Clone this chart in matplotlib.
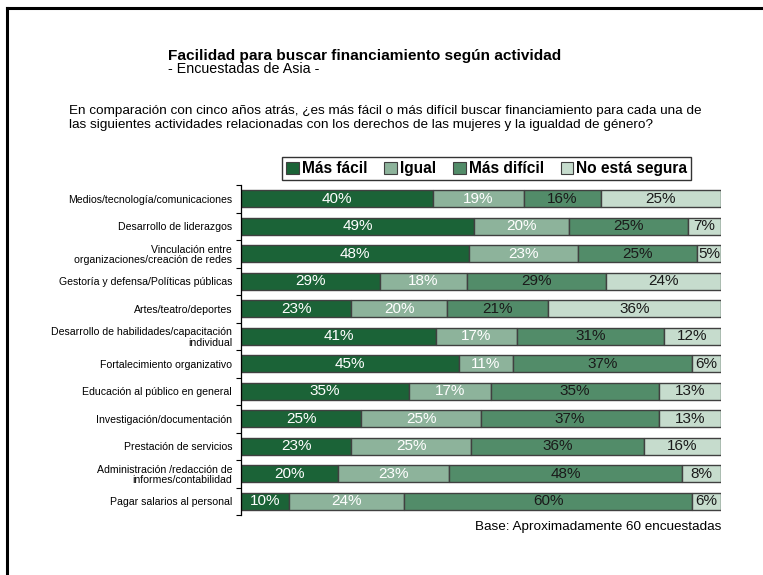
import numpy as np
import matplotlib
matplotlib.use("Agg")
import matplotlib.pyplot as plt
from matplotlib.lines import Line2D
from matplotlib.patches import Patch

plt.rcParams['font.family'] = ['Liberation Sans', 'DejaVu Sans']

# datos
actividades = ["Medios/tecnología/comunicaciones",
               "Desarrollo de liderazgos",
               "Vinculación entre\norganizaciones/creación de redes",
               "Gestoría y defensa/Políticas públicas",
               "Artes/teatro/deportes",
               "Desarrollo de habilidades/capacitación\nindividual",
               "Fortalecimiento organizativo",
               "Educación al público en general",
               "Investigación/documentación",
               "Prestación de servicios",
               "Administración /redacción de\ninformes/contabilidad",
               "Pagar salarios al personal"]
series = ["Más fácil", "Igual", "Más difícil", "No está segura"]
mas_facil = [40, 49, 48, 29, 23, 41, 45, 35, 25, 23, 20, 10]
igual = [19, 20, 23, 18, 20, 17, 11, 17, 25, 25, 23, 24]
mas_dificil = [16, 25, 25, 29, 21, 31, 37, 35, 37, 36, 48, 60]
no_segura = [25, 7, 5, 24, 36, 12, 6, 13, 13, 16, 8, 6]

colores = ["#1b6337", "#8db39b", "#528c69", "#c6dccd"]
col_texto = ["white", "white", "#1a1a1a", "#1a1a1a"]

vals = np.array([mas_facil, igual, mas_dificil, no_segura], dtype=float)
tot = vals.sum(axis=0)
frac = vals / tot

fig = plt.figure(figsize=(7.63, 5.75), dpi=100)
ax = fig.add_axes([0.3159, 0.104, 0.629, 0.574])

y = np.arange(len(actividades))
left = np.zeros(len(actividades))
for k in range(4):
    ax.barh(y, frac[k], left=left, height=0.62, color=colores[k],
            edgecolor="#404040", linewidth=1.0, label=series[k])
    for i in range(len(actividades)):
        ax.text(left[i] + frac[k][i] / 2, y[i], "%d%%" % vals[k][i],
                ha="center", va="center", fontsize=11, color=col_texto[k])
    left = left + frac[k]

ax.set_xlim(0, 1)
ax.set_ylim(len(actividades) - 0.5, -0.5)
ax.set_yticks(y)
ax.set_yticklabels(actividades, fontsize=7.6, linespacing=1.05)
ax.set_yticks(np.arange(len(actividades) + 1) - 0.5, minor=True)
ax.tick_params(axis="y", which="major", length=0, pad=6.5)
ax.tick_params(axis="y", which="minor", length=3.5, width=0.8, direction="out")
ax.set_xticks([])
for s in ["top", "right", "bottom"]:
    ax.spines[s].set_visible(False)
ax.spines["left"].set_linewidth(0.9)

handles = [Patch(facecolor=c, edgecolor="#404040", linewidth=0.8) for c in colores]
fig.legend(handles, series, loc="center", bbox_to_anchor=(0.638, 0.707), ncol=4,
           prop={"weight": "bold", "size": 11.2}, frameon=True, fancybox=False,
           edgecolor="black", handlelength=0.8, handleheight=0.8,
           handletextpad=0.2, columnspacing=1.1, borderpad=0.25)
fig.legends[0].get_frame().set_linewidth(1.0)

fig.text(168 / 763, 1 - 56 / 575, "Facilidad para buscar financiamiento según actividad",
         fontsize=11.1, fontweight="bold", va="center", ha="left")
fig.text(168 / 763, 1 - 69 / 575, "- Encuestadas de Asia -",
         fontsize=10.3, va="center", ha="left")
fig.text(69 / 763, 1 - 111 / 575,
         "En comparación con cinco años atrás, ¿es más fácil o más difícil buscar financiamiento para cada una de",
         fontsize=9.7, va="center", ha="left")
fig.text(69 / 763, 1 - 125 / 575,
         "las siguientes actividades relacionadas con los derechos de las mujeres y la igualdad de género?",
         fontsize=9.7, va="center", ha="left")
fig.text(721 / 763, 1 - 527 / 575, "Base: Aproximadamente 60 encuestadas",
         fontsize=9.7, va="center", ha="right")

# marco
fig.add_artist(Line2D([7 / 763, 1], [1 - 8 / 575, 1 - 8 / 575], color="black", lw=2.2))
fig.add_artist(Line2D([7 / 763, 7 / 763], [0, 1 - 8 / 575], color="black", lw=2.2))

fig.savefig("out.png", dpi=100)
